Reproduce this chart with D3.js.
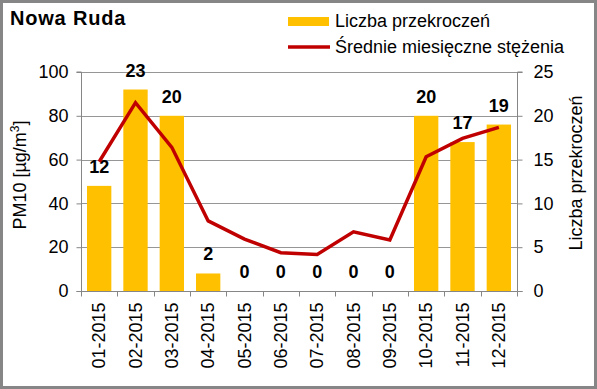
<!DOCTYPE html>
<html>
<head>
<meta charset="utf-8">
<script src="https://cdn.jsdelivr.net/npm/d3@7"></script>
<style>
  body { margin: 0; background: #fff; }
  text { font-family: "Liberation Sans", Arial, sans-serif; }
</style>
</head>
<body>
<div id="chart"></div>
<script>
var months = ['01-2015', '02-2015', '03-2015', '04-2015', '05-2015', '06-2015',
              '07-2015', '08-2015', '09-2015', '10-2015', '11-2015', '12-2015'];
var exceedances = [12, 23, 20, 2, 0, 0, 0, 0, 0, 20, 17, 19];
var meanPM10 = [59, 86, 65.6, 32, 23.7, 17.5, 16.7, 27, 23.3, 61.3, 69.7, 74.7];
var leftTicks = [0, 20, 40, 60, 80, 100];
var rightTicks = [0, 5, 10, 15, 20, 25];

var W = 597, H = 389;
// plot area edges (note: "top" is taken by window.top, so use pTop etc.)
var pLeft = 81, pRight = 517, pTop = 72, pBottom = 291;
var fontSize = 18;

var svg = d3.select('#chart')
  .append('svg')
    .attr('width', W)
    .attr('height', H);

// outer frame
svg.append('rect')
  .attr('x', 1.5).attr('y', 1.5)
  .attr('width', W - 3).attr('height', H - 3)
  .attr('fill', '#fff')
  .attr('stroke', '#868686')
  .attr('stroke-width', 3);

var x = d3.scaleBand().domain(months).range([pLeft, pRight]).paddingInner(0.33).paddingOuter(0.165);
var xc = d3.scaleBand().domain(months).range([pLeft, pRight]);
var yL = d3.scaleLinear().domain([0, 100]).range([pBottom, pTop]);
var yR = d3.scaleLinear().domain([0, 25]).range([pBottom, pTop]);

// gridlines
svg.append('g').selectAll('line')
  .data(leftTicks.slice(1))
  .enter().append('line')
    .attr('x1', pLeft).attr('x2', pRight)
    .attr('y1', function(d){ return Math.round(yL(d)) + 0.5; })
    .attr('y2', function(d){ return Math.round(yL(d)) + 0.5; })
    .attr('stroke', '#969696');

// bars
svg.append('g').selectAll('rect')
  .data(exceedances)
  .enter().append('rect')
    .attr('x', function(d, i){ return x(months[i]); })
    .attr('y', function(d){ return yR(d); })
    .attr('width', x.bandwidth())
    .attr('height', function(d){ return pBottom - yR(d); })
    .attr('fill', '#ffc000');

// bar labels
svg.append('g').selectAll('text')
  .data(exceedances)
  .enter().append('text')
    .attr('x', function(d, i){ return xc(months[i]) + xc.bandwidth() / 2; })
    .attr('y', function(d){ return yR(d) - 13; })
    .attr('text-anchor', 'middle')
    .attr('font-size', fontSize)
    .attr('font-weight', 'bold')
    .text(function(d){ return d; });

// line
var line = d3.line()
  .x(function(d, i){ return xc(months[i]) + xc.bandwidth() / 2; })
  .y(function(d){ return yL(d); });
svg.append('path')
  .datum(meanPM10)
  .attr('d', line)
  .attr('fill', 'none')
  .attr('stroke', '#c00000')
  .attr('stroke-width', 3.5);

// axes
var axisLeft = d3.axisLeft(yL).tickValues(leftTicks).tickSize(5).tickPadding(8);
var gL = svg.append('g').attr('transform', 'translate(' + (pLeft + 0.5) + ',0)').call(axisLeft);
var axisRight = d3.axisRight(yR).tickValues(rightTicks).tickSize(5).tickPadding(11);
var gR = svg.append('g').attr('transform', 'translate(' + (pRight + 0.5) + ',0)').call(axisRight);
var axisBottom = d3.axisBottom(xc).tickSize(0).tickPadding(0);
var gB = svg.append('g').attr('transform', 'translate(0,' + (pBottom + 0.5) + ')').call(axisBottom);

[gL, gR, gB].forEach(function(g){
  g.select('.domain').attr('stroke', '#868686');
  g.selectAll('.tick line').attr('stroke', '#868686');
  g.selectAll('text').attr('font-size', fontSize).attr('fill', '#000')
    .attr('font-family', '"Liberation Sans", Arial, sans-serif');
});
gL.select('.domain').attr('d', 'M-5,' + pTop + 'H0V' + (pBottom + 0.5) + 'H-5');
gR.select('.domain').attr('d', 'M5,' + pTop + 'H0V' + (pBottom + 0.5) + 'H5');
gB.select('.domain').attr('d', 'M' + pLeft + ',0H' + pRight);

// category separator ticks
gB.append('g').selectAll('line')
  .data(d3.range(months.length + 1))
  .enter().append('line')
    .attr('x1', function(d){ return Math.round(pLeft + d * xc.step()) + 0.5; })
    .attr('x2', function(d){ return Math.round(pLeft + d * xc.step()) + 0.5; })
    .attr('y1', 0).attr('y2', 5)
    .attr('stroke', '#868686');

gB.selectAll('.tick text')
  .attr('transform', 'rotate(-90)')
  .attr('text-anchor', 'end')
  .attr('x', -11)
  .attr('y', 0)
  .attr('dy', '0.35em');

// axis titles
svg.append('text')
  .attr('transform', 'translate(26,175) rotate(-90)')
  .attr('text-anchor', 'middle')
  .attr('font-size', fontSize)
  .html('PM10 [µg/m<tspan dy="-7" font-size="12">3</tspan><tspan dy="7">]</tspan>');

svg.append('text')
  .attr('transform', 'translate(582,173) rotate(-90)')
  .attr('text-anchor', 'middle')
  .attr('font-size', fontSize)
  .text('Liczba przekroczeń');

// title
svg.append('text')
  .attr('x', 10).attr('y', 25)
  .attr('font-size', 20)
  .attr('font-weight', 'bold')
  .attr('letter-spacing', 0.8)
  .text('Nowa Ruda');

// legend
svg.append('rect')
  .attr('x', 288).attr('y', 17)
  .attr('width', 41).attr('height', 9)
  .attr('fill', '#ffc000');
svg.append('text')
  .attr('x', 335).attr('y', 27)
  .attr('font-size', fontSize)
  .text('Liczba przekroczeń');
svg.append('line')
  .attr('x1', 288).attr('x2', 330)
  .attr('y1', 47).attr('y2', 47)
  .attr('stroke', '#c00000')
  .attr('stroke-width', 3.5);
svg.append('text')
  .attr('x', 335).attr('y', 53)
  .attr('font-size', fontSize)
  .text('Średnie miesięczne stężenia');
</script>
</body>
</html>
